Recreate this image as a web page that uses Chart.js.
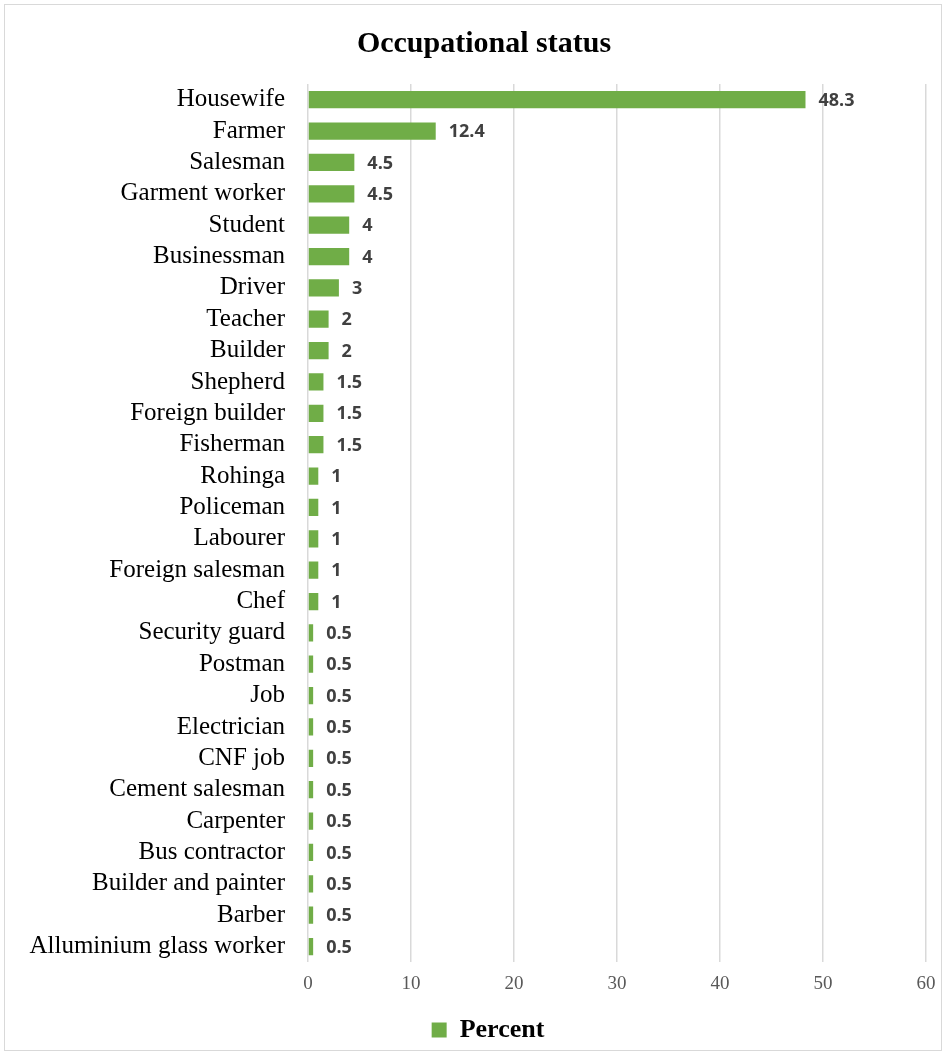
<!DOCTYPE html>
<html>
<head>
<meta charset="utf-8">
<script src="https://cdn.jsdelivr.net/npm/chart.js@4/dist/chart.umd.min.js"></script>
<style>
  body { margin: 0; background: #fff; }
  #frame { position: absolute; left: 4px; top: 4px; width: 936px; height: 1045px; border: 1px solid #d9d9d9; }
  #wrap { position: absolute; left: 0; top: 0; width: 946px; height: 1054px; }
</style>
</head>
<body>
<div id="frame"></div>
<div id="wrap"><canvas id="chart"></canvas></div>
<script>
const occupations = [
    "Housewife", "Farmer", "Salesman", "Garment worker", "Student", "Businessman",
    "Driver", "Teacher", "Builder", "Shepherd", "Foreign builder", "Fisherman",
    "Rohinga", "Policeman", "Labourer", "Foreign salesman", "Chef", "Security guard",
    "Postman", "Job", "Electrician", "CNF job", "Cement salesman", "Carpenter",
    "Bus contractor", "Builder and painter", "Barber", "Alluminium glass worker"
];

const percent = [
    48.3, 12.4, 4.5, 4.5, 4, 4,
    3, 2, 2, 1.5, 1.5, 1.5,
    1, 1, 1, 1, 1, 0.5,
    0.5, 0.5, 0.5, 0.5, 0.5, 0.5,
    0.5, 0.5, 0.5, 0.5
];

const xTicks = [0, 10, 20, 30, 40, 50, 60];

const green = "#70ad47";
const serif = "'Liberation Serif', 'Times New Roman', serif";

// value labels at the end of each bar
const valueLabels = {
    id: "valueLabels",
    afterDatasetsDraw(chart) {
        const ctx = chart.ctx;
        const meta = chart.getDatasetMeta(0);
        ctx.save();
        ctx.font = "bold 18px 'Open Sans', sans-serif";
        ctx.fillStyle = "#404040";
        ctx.textBaseline = "middle";
        ctx.textAlign = "left";
        meta.data.forEach((bar, i) => {
            ctx.fillText(String(percent[i]), bar.x + 13, bar.y + 1);
        });
        ctx.restore();
    }
};

// nudge title and legend to the right like the original
const blockShift = {
    id: "blockShift",
    afterLayout(chart) {
        chart.legend.left += 25;
        chart.legend.right += 25;
        chart.titleBlock.left += 21;
        chart.titleBlock.right += 21;
    }
};

new Chart(document.getElementById("chart"), {
    type: "bar",
    plugins: [valueLabels, blockShift],
    data: {
        labels: occupations,
        datasets: [{
            label: "Percent",
            data: percent,
            backgroundColor: green,
            categoryPercentage: 1,
            barPercentage: 0.55
        }]
    },
    options: {
        indexAxis: "y",
        responsive: true,
        maintainAspectRatio: false,
        animation: false,
        layout: { padding: { left: 0, right: 20, top: 0, bottom: 1 } },
        scales: {
            x: {
                min: 0,
                max: 60,
                afterBuildTicks: (scale) => { scale.ticks = xTicks.map(v => ({ value: v })); },
                grid: { color: "#d9d9d9", lineWidth: 1.5, drawTicks: false },
                border: { display: false },
                ticks: { color: "#595959", font: { family: serif, size: 19 }, padding: 10 }
            },
            y: {
                afterFit: (scale) => { scale.width = 308; },
                grid: { display: false },
                border: { display: false },
                ticks: { color: "#000", font: { family: serif, size: 25 }, padding: 15, autoSkip: false }
            }
        },
        plugins: {
            title: {
                display: true,
                text: "Occupational status",
                color: "#000",
                font: { family: serif, size: 30, weight: "bold" },
                padding: { top: 26, bottom: 22 }
            },
            legend: {
                position: "bottom",
                labels: {
                    color: "#000",
                    boxWidth: 15,
                    boxHeight: 15,
                    padding: 12,
                    font: { family: serif, size: 26, weight: "bold" }
                }
            },
            tooltip: { enabled: false }
        }
    }
});
</script>
</body>
</html>
